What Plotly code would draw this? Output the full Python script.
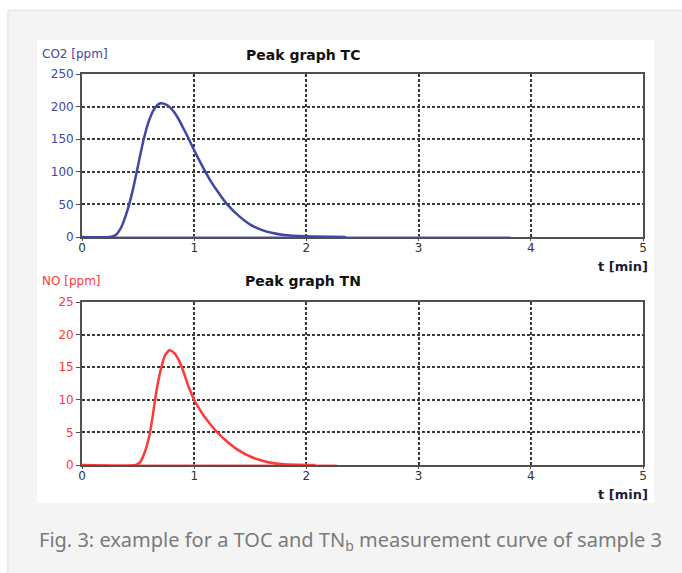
import plotly.graph_objects as go

# ---- data ----
tc_t = [0, 0.25, 0.30, 0.35, 0.40, 0.45, 0.50, 0.55, 0.60, 0.65, 0.70, 0.75, 0.80, 0.85,
        0.90, 0.95, 1.00, 1.05, 1.10, 1.15, 1.20, 1.25, 1.30, 1.40, 1.50, 1.60, 1.70,
        1.80, 2.00, 2.35]
tc_v = [0, 0, 3, 15, 38, 70, 110, 150, 180, 198, 205, 203, 196, 184,
        168, 151, 133, 116, 100, 85, 72, 60, 49, 32, 19, 11, 6,
        3, 1, 0]
tc_base_t = [0, 3.82]
tc_base_v = [0, 0]

tn_t = [0, 0.48, 0.52, 0.56, 0.60, 0.63, 0.66, 0.70, 0.74, 0.78, 0.82, 0.86, 0.90,
        0.95, 1.00, 1.05, 1.10, 1.20, 1.30, 1.40, 1.50, 1.60, 1.70, 1.80, 2.00, 2.08]
tn_v = [0, 0, 0.5, 2, 4.5, 7.5, 11, 14.5, 16.8, 17.6, 17.2, 16.2, 14.5,
        12, 10, 8.5, 7.2, 5.1, 3.5, 2.2, 1.3, 0.7, 0.3, 0.1, 0, 0]
tn_base_t = [0, 2.27]
tn_base_v = [0, 0]

x_ticks = [0, 1, 2, 3, 4, 5]
tc_ticks = [0, 50, 100, 150, 200, 250]
tn_ticks = [0, 5, 10, 15, 20, 25]

W, H = 682, 573
def px(x):
    return x / W
def py(y):
    return 1 - y / H

BLUE = "#4046a6"
BLUE_L = "#8c8fd6"
RED = "#ff3838"
RED_L = "#ff8a8a"
FONT = "DejaVu Sans"

fig = go.Figure()
fig.add_trace(go.Scatter(x=tc_base_t, y=tc_base_v, mode="lines", xaxis="x", yaxis="y",
                         line=dict(color=BLUE_L, width=1.5), showlegend=False))
fig.add_trace(go.Scatter(x=tc_t, y=tc_v, mode="lines", xaxis="x", yaxis="y",
                         line=dict(color=BLUE, width=2.5, shape="spline", smoothing=0.6),
                         showlegend=False))
fig.add_trace(go.Scatter(x=tn_base_t, y=tn_base_v, mode="lines", xaxis="x2", yaxis="y2",
                         line=dict(color=RED_L, width=1.5), showlegend=False))
fig.add_trace(go.Scatter(x=tn_t, y=tn_v, mode="lines", xaxis="x2", yaxis="y2",
                         line=dict(color=RED, width=2.5, shape="spline", smoothing=0.6),
                         showlegend=False))

xdom = [px(82), px(643)]
common_x = dict(range=[0, 5], tickvals=x_ticks, showline=True, linecolor="#505050",
                linewidth=1.8, mirror=True, showgrid=True, gridcolor="#3a3a3a",
                griddash="3px,2px", gridwidth=1.6, zeroline=False, ticks="outside",
                ticklen=2, tickcolor="#505050", ticklabelstandoff=-3, automargin=False,
                tickfont=dict(family=FONT, size=12, color="#333"), domain=xdom)
common_y = dict(showline=True, linecolor="#505050", linewidth=1.8, mirror=True,
                showgrid=True, gridcolor="#3a3a3a", griddash="3px,2px", gridwidth=1.6,
                zeroline=False, ticks="outside", ticklen=4, tickcolor="#505050",
                automargin=False)

fig.update_layout(
    width=W, height=H, margin=dict(l=0, r=0, t=0, b=0, autoexpand=False),
    paper_bgcolor="white", plot_bgcolor="white",
    xaxis=dict(common_x, anchor="y"),
    yaxis=dict(common_y, range=[0, 250], tickvals=tc_ticks, anchor="x",
               domain=[py(237), py(74)],
               tickfont=dict(family=FONT, size=12, color=BLUE)),
    xaxis2=dict(common_x, anchor="y2"),
    yaxis2=dict(common_y, range=[0, 25], tickvals=tn_ticks, anchor="x2",
                domain=[py(465), py(302)],
                tickfont=dict(family=FONT, size=12, color=RED)),
    shapes=[
        dict(type="rect", xref="paper", yref="paper", x0=px(8), x1=px(690),
             y0=py(580), y1=py(10.5), fillcolor="#f4f4f4",
             line=dict(color="#e6e6e6", width=1.5), layer="below"),
        dict(type="rect", xref="paper", yref="paper", x0=px(37), x1=px(654),
             y0=py(503), y1=py(40), fillcolor="white", line=dict(width=0),
             layer="below"),
    ],
    annotations=[
        dict(text="<b>Peak graph TC</b>", x=px(303), y=py(55), xref="paper", yref="paper",
             showarrow=False, font=dict(family=FONT, size=14, color="#111"),
             xanchor="center", yanchor="middle"),
        dict(text="<b>Peak graph TN</b>", x=px(303), y=py(281), xref="paper", yref="paper",
             showarrow=False, font=dict(family=FONT, size=14, color="#111"),
             xanchor="center", yanchor="middle"),
        dict(text="CO2 [ppm]", x=px(40), y=py(54), xref="paper", yref="paper",
             showarrow=False, font=dict(family=FONT, size=12, color=BLUE),
             xanchor="left", yanchor="middle"),
        dict(text="NO [ppm]", x=px(40), y=py(281), xref="paper", yref="paper",
             showarrow=False, font=dict(family=FONT, size=12, color=RED),
             xanchor="left", yanchor="middle"),
        dict(text="<b>t [min]</b>", x=px(650), y=py(266), xref="paper", yref="paper",
             showarrow=False, font=dict(family=FONT, size=13, color="#1c1c3a"),
             xanchor="right", yanchor="middle"),
        dict(text="<b>t [min]</b>", x=px(650), y=py(494), xref="paper", yref="paper",
             showarrow=False, font=dict(family=FONT, size=13, color="#1c1c3a"),
             xanchor="right", yanchor="middle"),
        dict(text="Fig. 3: example for a TOC and TN<sub>b</sub> measurement curve of sample 3",
             x=px(37), y=py(540), xref="paper", yref="paper", showarrow=False,
             font=dict(family="Noto Sans", size=20, color="#7a7a7a"),
             xanchor="left", yanchor="middle"),
    ],
)

fig.write_html("out.html", config={"displayModeBar": False},
               post_script="document.body.style.margin='0';document.body.style.overflow='hidden';")
